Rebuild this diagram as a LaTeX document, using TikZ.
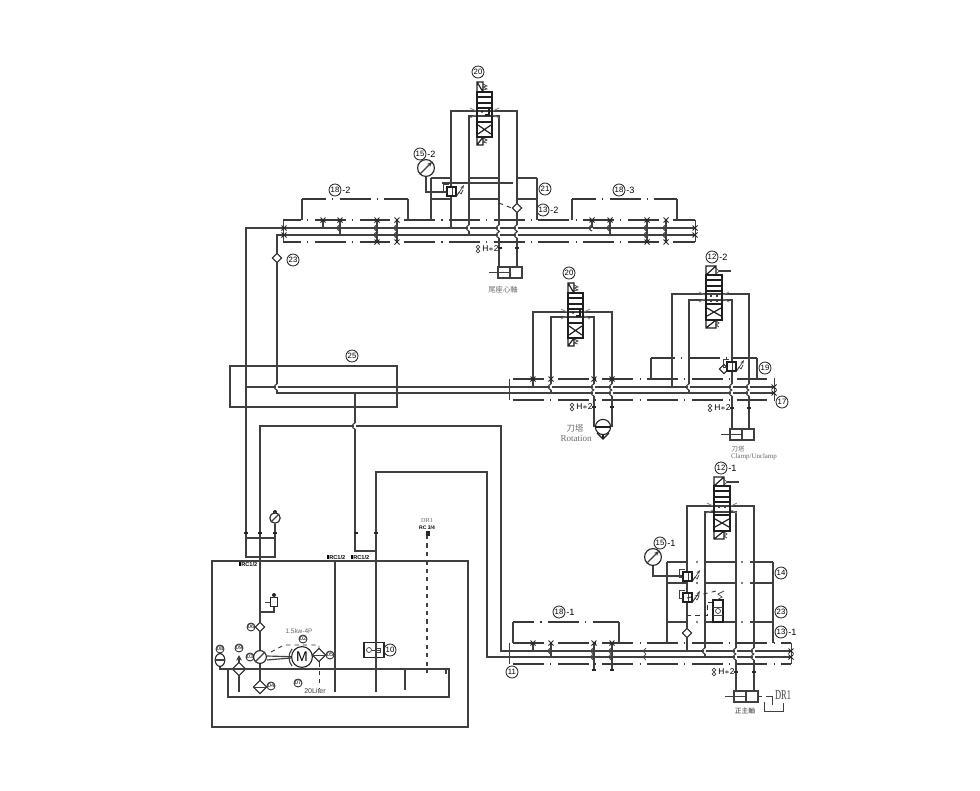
\documentclass[tikz,border=0pt]{standalone}
\usepackage{fontspec}
\setmainfont{Liberation Serif}
\setsansfont{Liberation Sans}
\newfontfamily\cjkfont{Noto Sans CJK TC}
\usepackage{tikz}
\usetikzlibrary{positioning,calc,arrows.meta,shapes.geometric}

\newcommand{\hop}[2]{%
  \draw[white,line width=1.3pt] (#1,#2-3) -- (#1,#2+3);
  \draw[pipe] (#1,#2-3) .. controls (#1-3.5,#2-2) and (#1-3.5,#2+2) .. (#1,#2+3);}

\tikzset{
  pipe/.style={draw=black!75,line width=0.82pt},
  vbody/.style={draw=black!88,line width=0.85pt},
  manif/.style={draw=black!78,line width=0.8pt,dash pattern=on 22pt off 4.5pt on 0.8pt off 4.5pt},
  thinp/.style={draw=black!75,line width=0.5pt},
  pilot/.style={draw=black!80,line width=0.65pt,dashed},
  balloon/.style={circle,draw=black!85,line width=0.6pt,inner sep=0pt,minimum size=0.3cm,font=\sffamily\fontsize{5.5}{5.5}\selectfont},
  minib/.style={balloon,minimum size=0.2cm,font=\sffamily\fontsize{4}{4}\selectfont},
  suffix/.style={inner sep=0pt,font=\sffamily\fontsize{6.5}{6.5}\selectfont},
  check/.style={diamond,draw=black!85,fill=white,line width=0.8pt,inner sep=0pt,minimum size=0.24cm},
  filterd/.style={diamond,draw=black!85,fill=white,line width=0.8pt,inner sep=0pt,minimum size=0.34cm},
  gauge/.style={circle,draw=black!85,fill=white,line width=0.8pt,inner sep=0pt,minimum size=0.42cm},
  greytext/.style={inner sep=0pt,text=black!60},
  valvea/.pic={
    \draw[vbody] (0,0) rectangle (6,10) (0,0) -- (6,10);
    \draw[thinp] (6,2) -- (10,4) -- (6,5) -- (10,7) -- (6,8);
    \draw[vbody] (0,10) rectangle (15,55);
    \draw[vbody] (0,15) -- (15,15) (0,21) -- (15,21) (0,26) -- (15,26) (0,40) -- (15,40);
    \draw[vbody] (12,26) -- (12,33) -- (8,33);
    \fill (5,30) circle (0.8);
    \draw[vbody] (1,43) -- (14,52) (14,43) -- (1,52);
    \draw[vbody] (0,55) rectangle (6,63) (0,63) -- (6,55);
    \draw[thinp] (6,56) -- (10,58) -- (6,60) -- (10,61);
    \draw[thinp,black!50] (-7,26) -- (-1,29) (22,26) -- (16,29) (-7,36) -- (-1,33) (22,36) -- (16,33);
  },
  valveb/.pic={
    \draw[vbody] (0,0) rectangle (10,9) (0,9) -- (10,0);
    \draw[thinp] (10,2) -- (13,5) -- (10,8);
    \draw[pipe] (13,5) -- (25,5);
    \draw[vbody] (0,9) rectangle (16,54);
    \draw[vbody] (0,14) -- (16,14) (0,20) -- (16,20) (0,25) -- (16,25) (0,38) -- (16,38);
    \draw[pipe] (5,29) -- (5,31) (11,29) -- (11,31) (5,34) -- (5,36) (11,34) -- (11,36);
    \draw[vbody] (1,42) -- (15,50) (15,42) -- (1,50);
    \draw[vbody] (0,54) rectangle (10,62) (0,62) -- (10,54);
    \draw[thinp] (10,55) -- (13,57) -- (10,59) -- (13,61);
    \draw[thinp,black!50] (-7,26) -- (-1,29) (23,26) -- (17,29) (-7,36) -- (-1,33) (23,36) -- (17,33);
  },
  cylinder/.pic={
    \draw[pipe] (0,0) rectangle (24,11) (12,0) -- (12,11);
    \draw[pipe] (-9,5.5) -- (12,5.5);
  },
  relief/.pic={
    \draw[vbody,fill=white] (0,0) rectangle (9,9);
    \draw[thinp] (5,1) -- (5,8);
    \draw[thinp] (10,8) -- (12,5) -- (14,7) -- (16,3);
    \draw[thinp,-{Stealth[length=3pt]}] (9,10) -- (17,-2);
    \draw[thinp] (0,5) -- (-4,5) -- (-4,-3) -- (2,-3);
  },
  xmark/.pic={
    \draw[line width=0.65pt,black!85] (-2.5,-2.5) -- (2.5,2.5) (2.5,-2.5) -- (-2.5,2.5);
    \fill[black!85] (-1,-1) rectangle (1,1);
  },
  seal/.pic={
    \fill[black!85] (-1.8,-1.2) rectangle (1.8,1.2);
  },
  hmark/.pic={
    \draw[thinp] (0,-2) circle (1.8) (0,2) circle (1.8);
    \node[inner sep=0pt,anchor=west,font=\sffamily\fontsize{6}{6}\selectfont] at (4,0) {H$\ast$2};
  }
}

\begin{document}
\begin{tikzpicture}[x=0.025cm,y=-0.025cm]
    \useasboundingbox (0,0) rectangle (980,790);

    %Coordinates
    \foreach \n/\x/\y in {
        ua/246/228, ub/695/228, uc/277/235, ud/695/235,
        ma/246/387, mb/774/387, mc/277/393, md/774/393,
        la/501/651, lb/791/651, lc/487/657, ld/791/657,
        ga/246/557, gb/275/557, gc/246/538, gd/275/538,
        sa/260/426, sb/501/426, ra/376/472, rb/487/472, rc/376/692,
        na/355/393, nb/355/551, nc/376/551, pc/260/426,
        ta/283/220, tb/695/220, tc/283/242, td/695/242,
        mta/509/379, mtb/774/379, mtc/509/400, mtd/774/400,
        lta/509/643, ltb/791/643, ltc/509/664, ltd/791/664,
        ka/302/220, kb/302/199, kc/408/199, kd/408/220,
        ke/572/220, kf/572/199, kg/677/199, kh/677/220,
        ca/431/220, cb/431/178, cc/537/178, cd/537/220, ce/431/199, cf/537/199,
        oa/451/228, ob/451/111, oc/517/111, od/517/268,
        ia/469/235, ib/469/116, ic/499/116, id/499/268,
        fa/533/387, fb/533/312, fc/612/312, fd/612/427,
        fe/551/393, ff/551/317, fg/594/317, fh/594/427,
        va/672/387, vb/672/294, vc/749/294, vd/749/429,
        ve/689/393, vf/689/300, vg/732/300, vh/732/429,
        wa/651/379, wb/651/358, wc/757/358, wd/757/379,
        xa/687/651, xb/687/506, xc/754/506, xd/754/691,
        ya/705/657, yb/705/512, yc/736/512, yd/736/691,
        za/667/643, zb/667/562, zc/773/562, zd/773/643,
        qa/513/643, qb/513/622, qc/619/622, qd/619/643,
        da/427/535, db/427/673, dc/335/561, dd/335/692,
        ea/228/669, eb/449/669, ec/449/697, ed/228/697,
        drz/757/696, drw/762/696, dra/766/696, drb/772/696, drc/772/705,
        drd/764/702, dre/764/711, drf/783/711, drg/783/703,
        tka/405/669, tkb/405/690, tkc/446/669, tkd/446/674,
        gsa/453/192, gsb/426/192, gta/689/576, gtb/653/576
    } \coordinate (\n) at (\x,\y);

    %Nodes
    \node[balloon] (b25) at (352,356) {25};
    \node[balloon] (b20a) at (478,72) {20};
    \node[balloon] (b15b) at (420,154) {15};
    \node[suffix,right=0.5pt of b15b] (s15b) {-2};
    \node[balloon] (b18b) at (335,190) {18};
    \node[suffix,right=0.5pt of b18b] (s18b) {-2};
    \node[balloon] (b21) at (545,189) {21};
    \node[balloon] (b13b) at (543,210) {13};
    \node[suffix,right=0.5pt of b13b] (s13b) {-2};
    \node[balloon] (b18c) at (619,190) {18};
    \node[suffix,right=0.5pt of b18c] (s18c) {-3};
    \node[balloon] (b23a) at (293,260) {23};
    \node[balloon] (b20b) at (569,273) {20};
    \node[balloon] (b12b) at (712,257) {12};
    \node[suffix,right=0.5pt of b12b] (s12b) {-2};
    \node[balloon] (b19) at (765,368) {19};
    \node[balloon] (b17) at (782,402) {17};
    \node[balloon] (b12a) at (721,468) {12};
    \node[suffix,right=0.5pt of b12a] (s12a) {-1};
    \node[balloon] (b15a) at (660,543) {15};
    \node[suffix,right=0.5pt of b15a] (s15a) {-1};
    \node[balloon] (b14) at (781,573) {14};
    \node[balloon] (b23b) at (781,612) {23};
    \node[balloon] (b13a) at (781,632) {13};
    \node[suffix,right=0.5pt of b13a] (s13a) {-1};
    \node[balloon] (b18a) at (559,612) {18};
    \node[suffix,right=0.5pt of b18a] (s18a) {-1};
    \node[balloon] (b11) at (512,672) {11};
    \node[balloon] (b10) at (390,650) {10};
    \node[minib] (b08) at (220,649) {08};
    \node[minib] (b09) at (239,648) {09};
    \node[minib] (b06) at (251,627) {06};
    \node[minib] (b03) at (250,657) {03};
    \node[minib] (b04) at (271,686) {04};
    \node[minib] (b02) at (303,639) {02};
    \node[minib] (b05) at (330,655) {05};
    \node[minib] (b07) at (298,683) {07};

    \node[gauge] (g15b) at (426,168) {};
    \node[gauge] (g15a) at (653,557) {};
    \node[check] (c23) at (277,258) {};
    \node[check] (c13b) at (517,208) {};
    \node[check] (c13a) at (687,633) {};
    \node[check] (c06) at (260,627) {};
    \node[check] (c19) at (724,369) {};
    \node[filterd] (f09) at (239,669) {};
    \node[filterd] (f04) at (260,687) {};
    \node[filterd] (f05) at (319,655) {};
    \node[circle,draw=black!85,fill=white,line width=0.8pt,inner sep=0pt,minimum size=0.32cm] (pump) at (260,657) {};
    \node[circle,draw=black!85,fill=white,line width=0.8pt,inner sep=0pt,minimum size=0.52cm,font=\sffamily\fontsize{10}{10}\selectfont] (motor) at (302,657) {M};
    \node[ellipse,draw=black!85,fill=white,line width=0.8pt,inner sep=0pt,minimum width=0.24cm,minimum height=0.32cm] (g08) at (220,660) {};
    \node[circle,draw=black!85,fill=white,line width=0.8pt,inner sep=0pt,minimum size=0.26cm] (g02) at (275,518) {};
    \node[circle,fill=black!85,inner sep=0pt,minimum size=0.1cm] (dot02) at (275,512) {};
    \node[circle,draw=black!85,line width=0.8pt,inner sep=0pt,minimum size=0.38cm,fill=white] (m15) at (603,427) {};
    \node[draw=black!85,line width=0.9pt,fill=white,inner sep=0pt,minimum width=0.5cm,minimum height=0.36cm] (f10) at (374,650) {};
    \node[draw=black!85,line width=0.7pt,fill=white,inner sep=0pt,minimum width=0.16cm,minimum height=0.24cm] (r02) at (274,602) {};
    \node[circle,fill=black!85,inner sep=0pt,minimum size=0.1cm] (rd02) at (274,595) {};

    \node[greytext,font=\cjkfont\fontsize{5.2}{5.2}\selectfont] (t1) at (503,290) {尾座心軸};
    \node[greytext,font=\cjkfont\fontsize{6}{6}\selectfont] (t2) at (575,428) {刀塔};
    \node[greytext,font=\fontsize{6.4}{6.4}\selectfont] (t3) at (576,439) {Rotation};
    \node[greytext,font=\cjkfont\fontsize{4.5}{4.5}\selectfont] (t4) at (738,449) {刀塔};
    \node[greytext,font=\fontsize{4.9}{4.9}\selectfont] (t5) at (754,457) {Clamp/Unclamp};
    \node[inner sep=0pt,text=black!80,font=\cjkfont\fontsize{4.8}{5}\selectfont] (t6) at (745,711) {正主軸};
    \node[greytext,text=black!75,font=\fontsize{8}{8}\selectfont] (t7) at (783,695) {\scalebox{0.75}[1.2]{DR1}};
    \node[greytext,font=\fontsize{4.4}{4.4}\selectfont] (t8) at (427,520) {DR1};
    \node[inner sep=0pt,font=\sffamily\bfseries\fontsize{3.6}{4}\selectfont] (t9) at (427,528) {RC 3/4};
    \node[inner sep=0pt,font=\sffamily\bfseries\fontsize{4}{4}\selectfont] (t10) at (248,564) {\rule{1.8pt}{3pt}RC1/2};
    \node[inner sep=0pt,font=\sffamily\bfseries\fontsize{4}{4}\selectfont] (t11) at (336,557) {\rule{1.8pt}{3pt}RC1/2};
    \node[inner sep=0pt,font=\sffamily\bfseries\fontsize{4}{4}\selectfont] (t12) at (360,557) {\rule{1.8pt}{3pt}RC1/2};
    \node[greytext,font=\sffamily\fontsize{4.6}{4.6}\selectfont] (t13) at (299,631) {1.5kw-4P};
    \node[greytext,text=black!75,font=\sffamily\fontsize{5}{5}\selectfont] (t14) at (315,691) {20Liter};

    %Lines: long pipes
    \draw[pipe] (ub) -- (ua) -- (ga) -- (gb) -- (g02);
    \draw[pipe] (gc) -- (gd);
    \draw[pipe] (ud) -- (uc) -- (c23);
    \draw[pipe] (c23) -- (mc) -- (md);
    \draw[pipe] (ma) -- (mb);
    \draw[pipe] (na) -- (nb) -- (nc);
    \draw[pipe] (c06) -- (sa) -- (sb) -- (la) -- (lb);
    \draw[pipe] (rc) -- (ra) -- (rb) -- (lc) -- (ld);
    \draw[pipe] (c06) -- (pump);
    \draw[pipe] (pump) -- (f04);

    %Lines: top manifold
    \draw[manif,dash phase=9.2pt] (ta) -- (tb);
    \draw[manif,dash phase=9.2pt] (tc) -- (td);
    \draw[thinp] (ta) -- (tc);
    \draw[thinp] (tb) -- (td);
    \draw[pipe] (ka) -- (kb);
    \draw[manif,dash phase=5pt] (kb) -- (kc);
    \draw[pipe] (kc) -- (kd);
    \draw[pipe] (ke) -- (kf);
    \draw[manif,dash phase=5pt] (kf) -- (kg);
    \draw[pipe] (kg) -- (kh);
    \draw[pipe] (ca) -- (cb);
    \draw[pipe] (cc) -- (cd);
    \draw[pipe] (oa) -- (ob) -- (oc) -- (c13b);
    \draw[pipe] (c13b) -- (od);
    \draw[pipe] (ia) -- (ib) -- (ic) -- (id);
    \foreach \x/\xx in {431/452,469/500,517/537} {
        \draw[pipe] (\x,178) -- (\xx,178);
        \draw[pipe] (\x,199) -- (\xx,199);
    }
    \draw[pipe] (442,183) -- (513,183);
    \draw[pilot] (499,203) -- (c13b.west);
    \draw[pipe] (g15b) -- (gsb) -- (gsa);
    \draw[pipe,-{Stealth[length=4pt]}] (g15b.south west) -- (g15b.north east);

    %Lines: middle manifold
    \draw[manif,dash phase=29pt] (mta) -- (mtb);
    \draw[manif,dash phase=29pt] (mtc) -- (mtd);
    \draw[thinp] (mta) -- (mtc);
    \draw[thinp] (mtb) -- (mtd);
    \draw[pipe] (fa) -- (fb) -- (fc) -- (fd);
    \draw[pipe] (fe) -- (ff) -- (fg) -- (fh);
    \draw[pipe] (wa) -- (wb);
    \draw[manif,dash phase=5pt] (wb) -- (wc);
    \draw[pipe] (wc) -- (wd);
    \draw[pipe] (va) -- (vb) -- (vc) -- (vd);
    \draw[pipe] (ve) -- (vf) -- (vg) -- (vh);
    \draw[vbody] (m15) -- (603,439);
    \draw[vbody] (597,433) -- (603,439) -- (609,433);
    \draw[vbody] (m15.west) -- (m15.east);

    %Lines: lower manifold
    \draw[manif,dash phase=29pt] (lta) -- (ltb);
    \draw[manif,dash phase=29pt] (ltc) -- (ltd);
    \draw[thinp] (lta) -- (ltc);
    \draw[thinp] (ltb) -- (ltd);
    \draw[pipe] (qa) -- (qb);
    \draw[manif,dash phase=7pt] (qb) -- (qc);
    \draw[pipe] (qc) -- (qd);
    \draw[pipe] (za) -- (zb);
    \draw[pipe] (zc) -- (zd);
    \foreach \y in {562,583,622} {
        \draw[pipe] (667,\y) -- (688,\y);
        \draw[pipe] (705,\y) -- (736,\y);
        \draw[pipe] (750,\y) -- (773,\y);
        \fill (697,\y) circle (0.8) (742,\y) circle (0.8);
    }
    \draw[pipe] (xa) -- (c13a);
    \draw[pipe] (c13a) -- (xb) -- (xc) -- (xd);
    \draw[pipe] (ya) -- (yb) -- (yc) -- (yd);
    \draw[pipe] (g15a) -- (gtb) -- (gta);
    \draw[pipe,-{Stealth[length=4pt]}] (g15a.south west) -- (g15a.north east);
    \draw[thinp] (drz) -- (drw);
    \draw[thinp] (dra) -- (drb) -- (drc);
    \draw[thinp] (drd) -- (dre) -- (drf) -- (drg);

    %Lines: tank unit
    \draw[pipe] (212,561) rectangle (468,727);
    \draw[pipe] (230,366) rectangle (397,407);
    \draw[pipe] (ea) -- (eb) -- (ec) -- (ed) -- cycle;
    \draw[pipe] (dc) -- (dd);
    \draw[pipe] (tka) -- (tkb);
    \draw[pipe] (tkc) -- (tkd);
    \draw[pipe,dashed] (da) -- (db);
    \draw[pipe] (g08) |- (ea);
    \draw[pipe] (g08.west) -- (g08.east);
    \draw[pipe] (f09) -- (239,692);
    \draw[pipe,-{Stealth[length=4pt,width=4pt]}] (f09) -- (239,655);
    \draw[pipe] (pump.south west) -- (pump.north east);
    \draw[pipe] (267,656) -- (motor);
    \draw[pipe] (267,660) -- (motor);
    \draw[pilot] (271,652) -- (284,645) -- (319,645) -- (f05);
    \draw[pilot] (f05) -- (319,688);
    \draw[thinp] (f05.west) -- (f05.east);
    \draw[thinp] (f09.west) -- (f09.east);
    \draw[thinp] (f04.west) -- (f04.east);
    \draw[pipe] (292,649) .. controls (288,654) and (288,661) .. (292,666);
    \draw[pipe] (260,612) -- (274,612) -- (r02);
    \draw[pipe] (r02) -- (rd02);
    \draw[thinp] (r02.west) -- ++(-5,0);
    \draw[pipe] (g02.south west) -- (g02.north east);
    \draw[pipe] (g02) -- (dot02);
    \draw[thinp] (369,650) circle (2.5);
    \draw[thinp] (372,650) -- (381,650) (376,648) rectangle (380,652);
    \fill[black!85] (425.5,531) rectangle (430,536);

    %Jumps
    \foreach \a/\b in {277/387,355/426,
        340/228,377/228,377/235,397/228,397/235,469/228,499/228,499/235,517/228,517/235,
        592/228,610/228,647/228,647/235,666/228,666/235,
        551/387,594/387,594/393,612/387,612/393,689/387,732/387,732/393,749/387,749/393,
        551/651,594/651,594/657,612/651,612/657,705/651,736/651,736/657,754/651,754/657} {
        \hop{\a}{\b}
    }
    \draw[thinp] (646,648) -- (643,651) -- (646,654) (646,654) -- (643,657) -- (646,660);

    %Port marks on the manifolds
    \draw[pipe] (323,220) -- (323,228);
    \draw[pipe] (340,220) -- (340,235);
    \draw[pipe] (377,220) -- (377,242);
    \draw[pipe] (397,220) -- (397,242);
    \draw[pipe] (592,220) -- (592,228);
    \draw[pipe] (610,220) -- (610,235);
    \draw[pipe] (647,220) -- (647,242);
    \draw[pipe] (666,220) -- (666,242);
    \draw[pipe] (533,643) -- (533,651);
    \draw[pipe] (551,643) -- (551,657);
    \draw[pipe] (594,643) -- (594,670);
    \draw[pipe] (612,643) -- (612,670);
    \foreach \a/\b in {323/220,340/220,377/220,397/220,592/220,610/220,647/220,666/220,
        377/242,397/242,647/242,666/242,
        284/228,284/235,695/228,695/235,
        533/379,551/379,594/379,612/379,774/387,774/393,
        533/643,551/643,594/643,612/643,791/651,791/657} {
        \pic at (\a,\b) {xmark};
    }
    \foreach \a/\b in {500/248,517/248,594/407,612/407,732/408,749/408,736/672,754/672,
        246/533,260/533,275/533,356/533,376/533,594/670,612/670} {
        \pic at (\a,\b) {seal};
    }
    \pic at (478,249) {hmark};
    \pic at (572,407) {hmark};
    \pic at (710,408) {hmark};
    \pic at (714,672) {hmark};

    %Valves and cylinders
    \pic at (477,82) {valvea};
    \pic at (568,283) {valvea};
    \pic at (706,266) {valveb};
    \pic at (714,477) {valveb};
    \pic at (498,267) {cylinder};
    \pic at (730,429) {cylinder};
    \pic at (734,691) {cylinder};
    \pic at (447,187) {relief};
    \pic at (683,572) {relief};
    \pic at (683,593) {relief};
    \pic at (727,362) {relief};

    %Shuttle block
    \draw[vbody,fill=white] (713,600) rectangle (723,622);
    \draw[thinp] (713,607) -- (723,607) (713,615) -- (723,615);
    \draw[thinp] (718,611) circle (2.5);
    \draw[thinp] (717,600) -- (722,597) -- (718,594) -- (724,591);
    \draw[pilot] (687,598) -- (716,591);
    \draw[pilot] (687,615) -- (707,615) -- (707,602) -- (713,602);
\end{tikzpicture}
\end{document}
